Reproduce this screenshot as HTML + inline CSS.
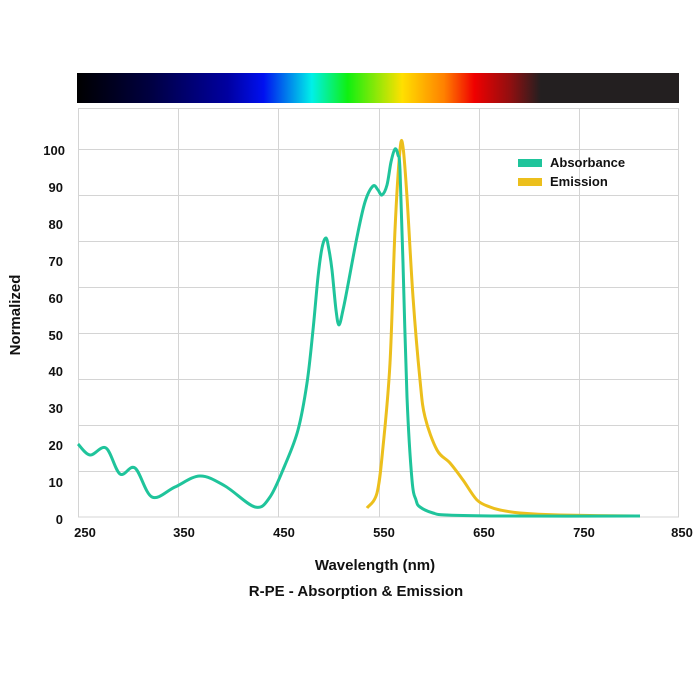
<!DOCTYPE html>
<html><head><meta charset="utf-8"><style>
body{margin:0;background:#fff;}
svg text{font-family:"Liberation Sans",sans-serif;font-weight:bold;fill:#111;}
</style></head><body>
<svg id="s" width="700" height="673" viewBox="0 0 700 673">
<defs><linearGradient id="g" x1="0" x2="1">
<stop offset="0" stop-color="#000000"/>
<stop offset="0.12" stop-color="#000040"/>
<stop offset="0.25" stop-color="#0000a0"/>
<stop offset="0.31" stop-color="#0010f0"/>
<stop offset="0.39" stop-color="#00f0e8"/>
<stop offset="0.45" stop-color="#10f010"/>
<stop offset="0.54" stop-color="#ffe000"/>
<stop offset="0.61" stop-color="#ff8000"/>
<stop offset="0.66" stop-color="#f00000"/>
<stop offset="0.72" stop-color="#900f10"/>
<stop offset="0.77" stop-color="#231f20"/>
<stop offset="1" stop-color="#231f20"/>
</linearGradient></defs>
<rect x="77" y="73" width="602" height="30" fill="url(#g)"/>
<g stroke="#d4d4d4" stroke-width="1" fill="none">
<rect x="78.5" y="108.5" width="600" height="408.5"/>
<line x1="178.5" y1="108" x2="178.5" y2="517"/>
<line x1="278.5" y1="108" x2="278.5" y2="517"/>
<line x1="379.5" y1="108" x2="379.5" y2="517"/>
<line x1="479.5" y1="108" x2="479.5" y2="517"/>
<line x1="579.5" y1="108" x2="579.5" y2="517"/>
<line x1="78" y1="149.5" x2="679" y2="149.5"/>
<line x1="78" y1="195.5" x2="679" y2="195.5"/>
<line x1="78" y1="241.5" x2="679" y2="241.5"/>
<line x1="78" y1="287.5" x2="679" y2="287.5"/>
<line x1="78" y1="333.5" x2="679" y2="333.5"/>
<line x1="78" y1="379.5" x2="679" y2="379.5"/>
<line x1="78" y1="425.5" x2="679" y2="425.5"/>
<line x1="78" y1="471.5" x2="679" y2="471.5"/>
</g>
<g font-size="13" text-anchor="end">
<text x="63" y="524">0</text><text x="63" y="487">10</text><text x="63" y="450">20</text>
<text x="63" y="413">30</text><text x="63" y="376">40</text><text x="63" y="340">50</text>
<text x="63" y="303">60</text><text x="63" y="266">70</text><text x="63" y="229">80</text>
<text x="63" y="192">90</text><text x="65" y="155">100</text>
</g>
<g font-size="13" text-anchor="middle">
<text x="85" y="537">250</text><text x="184" y="537">350</text><text x="284" y="537">450</text>
<text x="384" y="537">550</text><text x="484" y="537">650</text><text x="584" y="537">750</text>
<text x="682" y="537">850</text>
</g>
<text x="375" y="570" font-size="15" text-anchor="middle">Wavelength (nm)</text>
<text x="356" y="596" font-size="15" text-anchor="middle">R-PE - Absorption &amp; Emission</text>
<text transform="translate(20,315) rotate(-90)" font-size="15" text-anchor="middle">Normalized</text>
<rect x="518" y="159" width="24" height="8" fill="#1fc49b"/>
<rect x="518" y="178" width="24" height="8" fill="#ecbf1c"/>
<text x="550" y="167" font-size="13">Absorbance</text>
<text x="550" y="186" font-size="13">Emission</text>
<path id="em" fill="none" stroke="#ecbf1c" stroke-width="3"/>
<path id="ab" fill="none" stroke="#1fc49b" stroke-width="3"/>
</svg>
<script>
function cr(p){var d="M"+p[0][0]+","+p[0][1];for(var i=0;i<p.length-1;i++){var a=p[i-1]||p[i],b=p[i],c=p[i+1],e=p[i+2]||c;d+=" C"+(b[0]+(c[0]-a[0])/6)+","+(b[1]+(c[1]-a[1])/6)+" "+(c[0]-(e[0]-b[0])/6)+","+(c[1]-(e[1]-b[1])/6)+" "+c[0]+","+c[1];}return d;}
var ab=[[78,444],[90,455],[106,448],[120,474],[135,468],[152,497],[175,487],[200,476],[225,486],[255,507],[270,497],[285,465],[298,430],[307,383],[313,330],[318,277],[322,248],[326,238],[329,250],[332,270],[336,310],[339,325],[343,310],[347,290],[357,237],[365,202],[373,186],[378,190],[382,195],[387,185],[391,162],[395,149],[398,155],[400,170],[403,263],[407,397],[412,480],[416,500],[420,507],[433,513],[447,515],[500,516],[640,516]];
var em=[[367,508],[377,493],[383,447],[390,363],[395,230],[400,150],[403,147],[407,197],[413,297],[420,380],[425,417],[437,450],[450,463],[463,480],[477,500],[490,507],[500,510],[520,513],[560,515],[640,516]];
document.getElementById('ab').setAttribute('d',cr(ab));
document.getElementById('em').setAttribute('d',cr(em));
</script>
</body></html>
